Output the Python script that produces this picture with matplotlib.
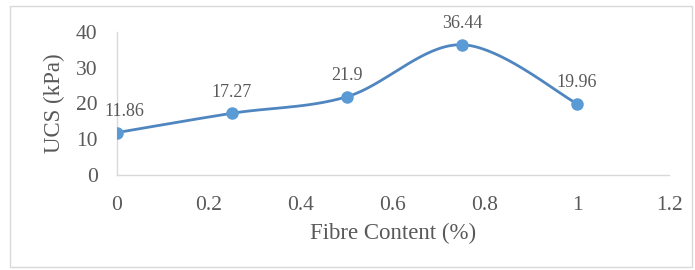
import numpy as np
import matplotlib
matplotlib.use("Agg")
import matplotlib.pyplot as plt
from matplotlib.patches import Rectangle

fibre = [0, 0.25, 0.5, 0.75, 1.0]
ucs = [11.86, 17.27, 21.9, 36.44, 19.96]
labels = ["11.86", "17.27", "21.9", "36.44", "19.96"]


def smooth(x, y, n=40):
    # Excel-style smoothed line: cubic Bezier with Catmull-Rom control points
    x = np.asarray(x, float)
    y = np.asarray(y, float)
    px = np.concatenate([[x[0]], x, [x[-1]]])
    py = np.concatenate([[y[0]], y, [y[-1]]])
    xs, ys = [], []
    t = np.linspace(0, 1, n)
    for i in range(1, len(px) - 2):
        p0 = np.array([px[i], py[i]])
        p3 = np.array([px[i + 1], py[i + 1]])
        p1 = p0 + (np.array([px[i + 1], py[i + 1]]) - np.array([px[i - 1], py[i - 1]])) / 6
        p2 = p3 - (np.array([px[i + 2], py[i + 2]]) - np.array([px[i], py[i]])) / 6
        b = ((1 - t) ** 3)[:, None] * p0 + (3 * (1 - t) ** 2 * t)[:, None] * p1 \
            + (3 * (1 - t) * t ** 2)[:, None] * p2 + (t ** 3)[:, None] * p3
        xs.extend(b[:, 0])
        ys.extend(b[:, 1])
    return xs, ys


fig = plt.figure(figsize=(6.95, 2.7), dpi=100)
fig.patches.append(Rectangle((10 / 695, 3 / 270), 682 / 695, 261 / 270,
                             transform=fig.transFigure, fill=False,
                             edgecolor="#d9d9d9", linewidth=1))
ax = fig.add_axes([117 / 695, 1 - 175 / 270, 552 / 695, 143 / 270])

sx, sy = smooth(fibre, ucs)
ax.plot(sx, sy, color="#4f86c0", linewidth=2, zorder=2)
ax.plot(fibre, ucs, "o", color="#5b9bd5", markersize=8, zorder=3)

for i, (xv, yv, lab) in enumerate(zip(fibre, ucs, labels)):
    dx = 5 if i == 0 else 0
    ax.annotate(lab, (xv, yv), xytext=(dx, 9), textcoords="offset points",
                ha="center", va="bottom", fontsize=13, color="#595959",
                family="Liberation Serif")

ax.set_xlim(0, 1.2)
ax.set_ylim(0, 40)
ax.set_xticks([0, 0.2, 0.4, 0.6, 0.8, 1.0, 1.2])
ax.set_xticklabels(["0", "0.2", "0.4", "0.6", "0.8", "1", "1.2"])
ax.set_yticks([0, 10, 20, 30, 40])

for side in ["top", "right"]:
    ax.spines[side].set_visible(False)
for side in ["left", "bottom"]:
    ax.spines[side].set_color("#d9d9d9")
    ax.spines[side].set_linewidth(1)

ax.tick_params(axis="both", length=0, labelsize=15.5, labelcolor="#595959")
ax.tick_params(axis="x", pad=15)
ax.tick_params(axis="y", pad=14)
for t in ax.get_xticklabels() + ax.get_yticklabels():
    t.set_family("Liberation Serif")

ax.set_xlabel("Fibre Content (%)", fontsize=16.5, color="#595959",
              family="Liberation Serif", labelpad=6)
ax.set_ylabel("UCS (kPa)", fontsize=16.5, color="#595959",
              family="Liberation Serif", labelpad=8)

fig.savefig("out.png", dpi=100)
